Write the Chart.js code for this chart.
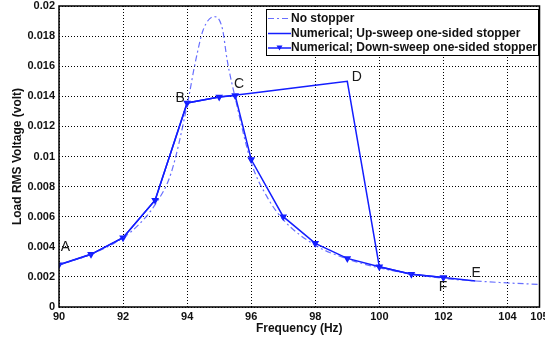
<!DOCTYPE html>
<html>
<head>
<meta charset="utf-8">
<script src="https://cdn.jsdelivr.net/npm/chart.js@4.4.1/dist/chart.umd.min.js"></script>
<style>
  html, body { margin: 0; padding: 0; background: #fff; }
  #wrap { width: 545px; height: 339px; }
</style>
</head>
<body>
<div id="wrap"><canvas id="myChart"></canvas></div>
<script>
// values
const noStopFreq = [90, 91, 92, 92.5, 93, 93.5, 94, 94.25, 94.5, 94.85, 95.1, 95.25, 95.5, 96, 96.5, 97, 98, 99, 100, 101, 102, 103, 104, 105];
const noStopVolt = [0.0028, 0.0035, 0.0046, 0.0055, 0.0068, 0.0089, 0.0134, 0.0162, 0.0184, 0.0193, 0.0185, 0.0164, 0.0139, 0.0096, 0.0073, 0.0058, 0.0041, 0.0032, 0.0026, 0.0022, 0.0019, 0.00173, 0.0016, 0.0015];

const upFreq = [90, 91, 92, 93, 94, 95, 96, 97, 98, 99, 100, 101, 102, 103];
const upVolt = [0.0028, 0.0035, 0.0046, 0.0071, 0.01356, 0.01396, 0.0142, 0.01447, 0.01473, 0.0150, 0.00267, 0.00218, 0.00196, 0.00172];

const downFreq = [90, 91, 92, 93, 94, 95, 95.5, 96, 97, 98, 99, 100, 101, 102];
const downVolt = [0.0028, 0.0035, 0.0046, 0.0071, 0.01356, 0.01396, 0.01405, 0.0098, 0.0060, 0.00423, 0.00323, 0.00267, 0.00218, 0.00196];

// point labels A..F
const pointNames = ["A", "B", "C", "D", "E", "F"];
const pointFreq = [90.2, 93.78, 95.62, 99.3, 103.02, 101.99];
const pointVolt = [0.0040, 0.0139, 0.01483, 0.0153, 0.00227, 0.00133];

const xTicks = [90, 92, 94, 96, 98, 100, 102, 104, 105];
const yTicks = [0, 0.002, 0.004, 0.006, 0.008, 0.01, 0.012, 0.014, 0.016, 0.018, 0.02];

const toXY = (xs, ys) => xs.map((v, i) => ({ x: v, y: ys[i] }));
const FONT = '"Liberation Sans", Arial, sans-serif';
const BLUE = "rgb(20,30,255)";

// box, A-F letters and the legend inside the plot
const overlay = {
  id: "overlay",
  afterDraw(chart) {
    const { ctx, chartArea: a, scales: { x, y } } = chart;
    ctx.save();
    ctx.strokeStyle = "#000";
    ctx.lineWidth = 1.5;
    ctx.strokeRect(a.left, a.top, a.right - a.left, a.bottom - a.top);

    ctx.font = "14px " + FONT;
    ctx.fillStyle = "#1a1a1a";
    ctx.textAlign = "center";
    ctx.textBaseline = "middle";
    pointNames.forEach((n, i) => {
      ctx.fillText(n, x.getPixelForValue(pointFreq[i]), y.getPixelForValue(pointVolt[i]));
    });

    // legend
    const lx = 266, ly = 9, lw = 272, lh = 46;
    ctx.fillStyle = "#fff";
    ctx.fillRect(lx, ly, lw, lh);
    ctx.strokeStyle = "#000";
    ctx.lineWidth = 1;
    ctx.strokeRect(lx + 0.5, ly + 0.5, lw, lh);
    const rows = [18.5, 33.5, 48];
    chart.data.datasets.forEach((ds, i) => {
      const ry = rows[i];
      ctx.strokeStyle = ds.borderColor;
      ctx.lineWidth = ds.borderWidth;
      ctx.setLineDash(ds.borderDash || []);
      ctx.beginPath();
      ctx.moveTo(268, ry);
      ctx.lineTo(291, ry);
      ctx.stroke();
      ctx.setLineDash([]);
      if (ds.pointRadius > 0) {
        ctx.fillStyle = BLUE;
        ctx.beginPath();
        ctx.moveTo(276.5, ry - 2.5);
        ctx.lineTo(282.5, ry - 2.5);
        ctx.lineTo(279.5, ry + 2.5);
        ctx.closePath();
        ctx.fill();
      }
      ctx.fillStyle = "#111";
      ctx.textAlign = "left";
      ctx.font = "bold 12px " + FONT;
      ctx.fillText(ds.label, 291, ry);
    });
    ctx.restore();
  },
};

new Chart(document.getElementById("myChart"), {
  type: "line",
  data: {
    datasets: [
      {
        label: "No stopper",
        data: toXY(noStopFreq, noStopVolt),
        borderColor: "rgba(40,50,255,0.7)",
        borderWidth: 1.2,
        borderDash: [6, 3, 2, 3],
        pointRadius: 0,
        cubicInterpolationMode: "monotone",
      },
      {
        label: "Numerical; Up-sweep one-sided stopper",
        data: toXY(upFreq, upVolt),
        borderColor: BLUE,
        borderWidth: 1.5,
        pointRadius: 0,
        tension: 0,
      },
      {
        label: "Numerical; Down-sweep one-sided stopper",
        data: toXY(downFreq, downVolt),
        borderColor: BLUE,
        backgroundColor: BLUE,
        borderWidth: 1.5,
        pointRadius: 3,
        pointStyle: "triangle",
        rotation: 180,
        tension: 0,
      },
    ],
  },
  options: {
    responsive: true,
    maintainAspectRatio: false,
    animation: false,
    layout: { padding: { left: 0, right: 4, top: 6, bottom: 0 } },
    plugins: { legend: { display: false }, tooltip: { enabled: false } },
    scales: {
      x: {
        type: "linear",
        min: 90,
        max: 105,
        afterBuildTicks: (s) => { s.ticks = xTicks.map((v) => ({ value: v })); },
        afterFit: (s) => { s.height = 32; s.paddingLeft = 0; s.paddingRight = 0; },
        ticks: {
          autoSkip: false,
          maxRotation: 0,
          padding: 3,
          color: "#111",
          font: { family: FONT, size: 11, weight: "bold" },
        },
        grid: { color: "#000", lineWidth: 1, drawTicks: false },
        border: { display: false, dash: [1, 2] },
        title: {
          display: true,
          text: "Frequency (Hz)",
          color: "#111",
          font: { family: FONT, size: 12, weight: "bold" },
          padding: { top: 0, bottom: 3 },
        },
      },
      y: {
        min: 0,
        max: 0.02,
        afterBuildTicks: (s) => { s.ticks = yTicks.map((v) => ({ value: v })); },
        afterFit: (s) => { s.width = 59; s.paddingTop = 0; s.paddingBottom = 0; },
        ticks: {
          padding: 4,
          color: "#111",
          font: { family: FONT, size: 11, weight: "bold" },
          callback: (v) => String(Number(v.toFixed(3))),
        },
        grid: { color: "#000", lineWidth: 1, drawTicks: false },
        border: { display: false, dash: [1, 2] },
        title: {
          display: true,
          text: "Load RMS Voltage (volt)",
          color: "#111",
          font: { family: FONT, size: 12, weight: "bold" },
          padding: { top: 10, bottom: 0 },
        },
      },
    },
  },
  plugins: [overlay],
});
</script>
</body>
</html>
